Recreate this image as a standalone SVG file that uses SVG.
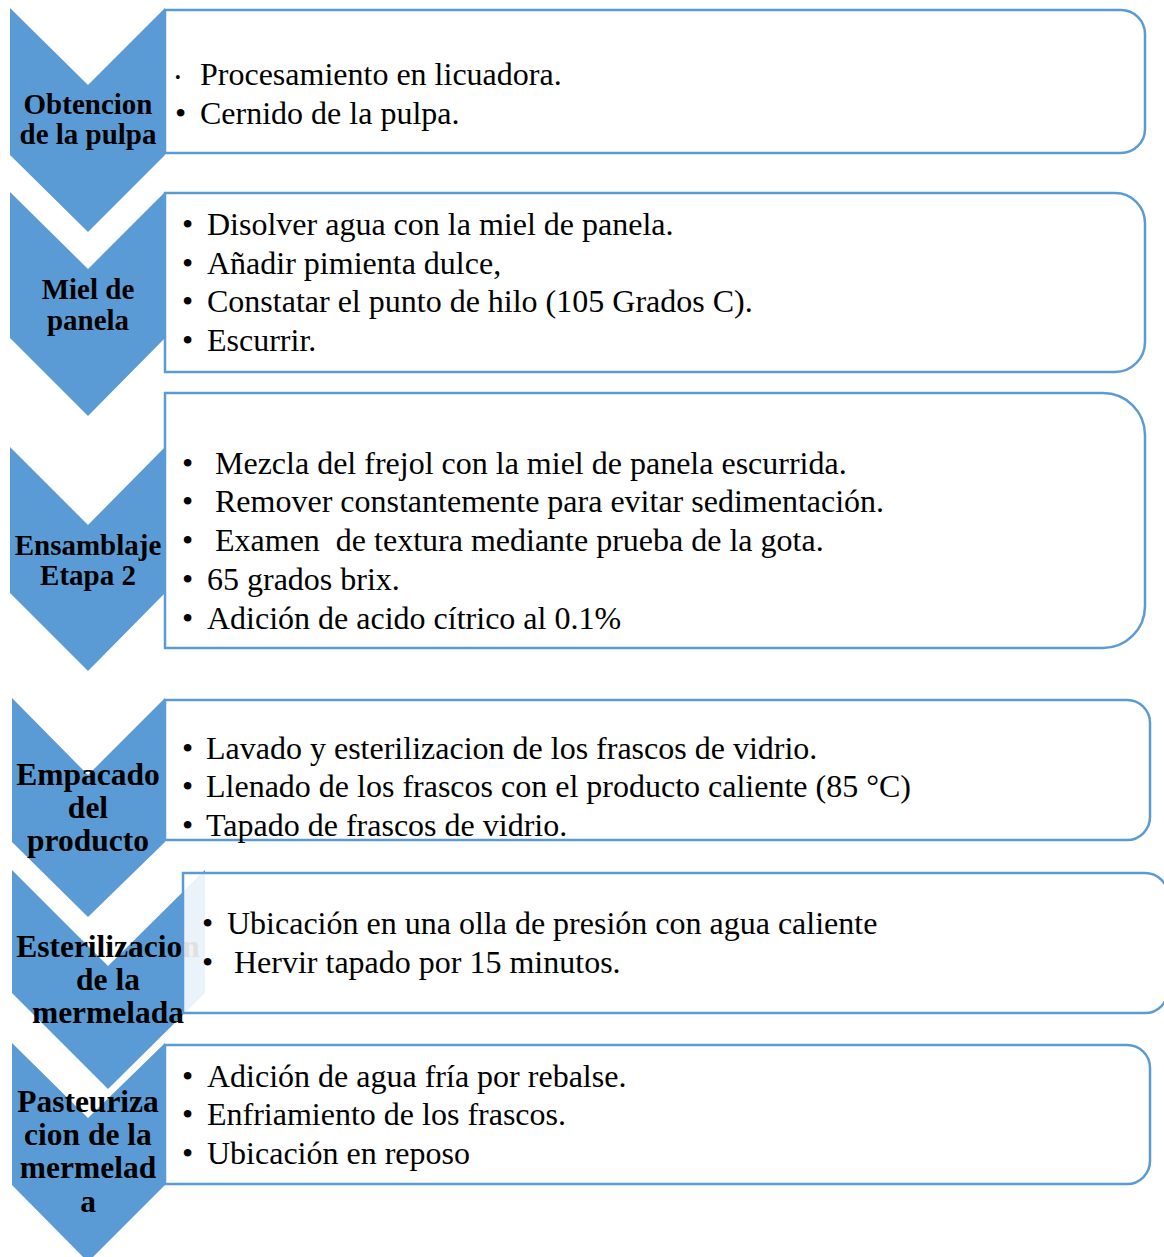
<svg xmlns="http://www.w3.org/2000/svg" width="1164" height="1257" viewBox="0 0 1164 1257">
<style>
.chev{fill:#5B9BD5;}
.box{fill:#FFFFFF;stroke:#5B9BD5;stroke-width:2.5;}
.lbl{font-family:"Liberation Serif","Times New Roman",serif;font-weight:bold;font-size:29px;fill:#000;text-anchor:middle;}
.lbl2{font-family:"Liberation Serif","Times New Roman",serif;font-weight:bold;font-size:31.5px;fill:#000;text-anchor:middle;}
.txt{font-family:"Liberation Serif","Times New Roman",serif;font-size:32px;fill:#000;}
.small{font-size:16px;}
</style>
<rect width="1164" height="1257" fill="#FFFFFF"/>
<g id="connectors"/>
<g id="step6">
<polygon class="chev" points="12,1043 88,1118 165,1043 165,1185 88,1262 12,1185"/>
<text class="lbl2" x="88" y="1112">Pasteuriza</text>
<text class="lbl2" x="88" y="1145">cion de la</text>
<text class="lbl2" x="88" y="1178">mermelad</text>
<text class="lbl2" x="88" y="1212">a</text>
<path class="box" d="M165,1045 H1127 A23,23 0 0 1 1150,1068 V1161 A23,23 0 0 1 1127,1184 H165 Z"/>
<text class="txt" x="182" y="1087">•</text><text class="txt" x="207" y="1087">Adición de agua fría por rebalse.</text>
<text class="txt" x="182" y="1125">•</text><text class="txt" x="207" y="1125">Enfriamiento de los frascos.</text>
<text class="txt" x="182" y="1164">•</text><text class="txt" x="207" y="1164">Ubicación en reposo</text>
</g>
<g id="step1">
<polygon class="chev" points="10,8 88,85 165,8 165,155 88,232 10,155"/>
<text class="lbl" x="88" y="114">Obtencion</text>
<text class="lbl" x="88" y="144">de la pulpa</text>
<path class="box" d="M165,10 H1121 A24,24 0 0 1 1145,34 V129 A24,24 0 0 1 1121,153 H165 Z"/>
<text class="txt small" x="175" y="83">•</text><text class="txt" x="200" y="85">Procesamiento en licuadora.</text>
<text class="txt" x="175" y="124">•</text><text class="txt" x="200" y="124">Cernido de la pulpa.</text>
</g>
<g id="step2">
<polygon class="chev" points="10,192 88,269 165,192 165,338 88,416 10,338"/>
<text class="lbl" x="88" y="299">Miel de</text>
<text class="lbl" x="88" y="330">panela</text>
<path class="box" d="M165,193 H1115 A30,30 0 0 1 1145,223 V342 A30,30 0 0 1 1115,372 H165 Z"/>
<text class="txt" x="182" y="235">•</text><text class="txt" x="207" y="235">Disolver agua con la miel de panela.</text>
<text class="txt" x="182" y="274">•</text><text class="txt" x="207" y="274">Añadir pimienta dulce,</text>
<text class="txt" x="182" y="312">•</text><text class="txt" x="207" y="312">Constatar el punto de hilo (105 Grados C).</text>
<text class="txt" x="182" y="351">•</text><text class="txt" x="207" y="351">Escurrir.</text>
</g>
<g id="step3">
<polygon class="chev" points="10,447 88,525 165,447 165,593 88,671 10,593"/>
<text class="lbl" x="88" y="555">Ensamblaje</text>
<text class="lbl" x="88" y="585">Etapa 2</text>
<path class="box" d="M165,393 H1103 A42,42 0 0 1 1145,435 V606 A42,42 0 0 1 1103,648 H165 Z"/>
<text class="txt" x="182" y="474">•</text><text class="txt" x="215" y="474">Mezcla del frejol con la miel de panela escurrida.</text>
<text class="txt" x="182" y="512">•</text><text class="txt" x="215" y="512">Remover constantemente para evitar sedimentación.</text>
<text class="txt" x="182" y="551">•</text><text class="txt" x="215" y="551" xml:space="preserve">Examen  de textura mediante prueba de la gota.</text>
<text class="txt" x="182" y="590">•</text><text class="txt" x="207" y="590">65 grados brix.</text>
<text class="txt" x="182" y="629">•</text><text class="txt" x="207" y="629">Adición de acido cítrico al 0.1%</text>
</g>
<g id="step4">
<polygon class="chev" points="12,698 88,775 165,698 165,842 88,917 12,842"/>
<text class="lbl2" x="88" y="785">Empacado</text>
<text class="lbl2" x="88" y="818">del</text>
<text class="lbl2" x="88" y="851">producto</text>
<path class="box" d="M165,700 H1127 A23,23 0 0 1 1150,723 V817 A23,23 0 0 1 1127,840 H165 Z"/>
<text class="txt" x="182" y="759">•</text><text class="txt" x="206" y="759">Lavado y esterilizacion de los frascos de vidrio.</text>
<text class="txt" x="182" y="797">•</text><text class="txt" x="206" y="797">Llenado de los frascos con el producto caliente (85 °C)</text>
<text class="txt" x="182" y="836">•</text><text class="txt" x="206" y="836">Tapado de frascos de vidrio.</text>
</g>
<g id="step5">
<polygon class="chev" points="12,870 108,966 205,870 205,993 108,1089 12,993"/>
<text class="lbl2" x="108" y="957">Esterilizacion</text>
<text class="lbl2" x="108" y="990">de la</text>
<text class="lbl2" x="108" y="1023">mermelada</text>
<path class="box" d="M183,873 H1145 A23,23 0 0 1 1168,896 V990 A23,23 0 0 1 1145,1013 H183 Z" fill-opacity="0.88"/>
<text class="txt" x="202" y="934">•</text><text class="txt" x="227" y="934">Ubicación en una olla de presión con agua caliente</text>
<text class="txt" x="202" y="973">•</text><text class="txt" x="234" y="973">Hervir tapado por 15 minutos.</text>
</g>
</svg>
